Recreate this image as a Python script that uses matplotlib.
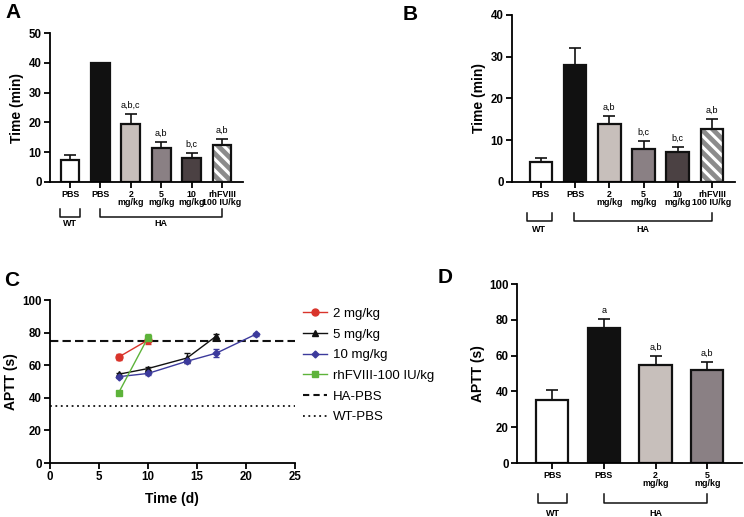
import matplotlib
matplotlib.use("Agg")
import matplotlib.pyplot as plt
from matplotlib.lines import Line2D
import numpy as np

plt.rcParams['font.family'] = ['Liberation Sans', 'DejaVu Sans']
plt.rcParams['hatch.linewidth'] = 2.2

# ---------------- data ----------------
a_labels = ["PBS", "PBS", "2\nmg/kg", "5\nmg/kg", "10\nmg/kg", "rhFVIII\n100 IU/kg"]
a_values = [7.5, 40, 19.5, 11.5, 8.0, 12.5]
a_err = [1.5, 0, 3.2, 1.9, 1.9, 2.1]
a_sig = ["", "", "a,b,c", "a,b", "b,c", "a,b"]

b_labels = ["PBS", "PBS", "2\nmg/kg", "5\nmg/kg", "10\nmg/kg", "rhFVIII\n100 IU/kg"]
b_values = [4.7, 28, 13.8, 8.0, 7.3, 12.8]
b_err = [1.1, 4.0, 2.0, 1.8, 1.0, 2.4]
b_sig = ["", "", "a,b", "b,c", "b,c", "a,b"]

d_labels = ["PBS", "PBS", "2\nmg/kg", "5\nmg/kg"]
d_values = [35.5, 75.5, 55, 52]
d_err = [5.5, 5.0, 5.0, 4.5]
d_sig = ["", "a", "a,b", "a,b"]

c_days_2 = [7, 10]
c_aptt_2 = [65, 75.5]
c_err_2 = [2.0, 2.5]
c_days_5 = [7, 10, 14, 17]
c_aptt_5 = [54.5, 58, 64.5, 78]
c_err_5 = [1.0, 1.0, 3.0, 1.0]
c_days_10 = [7, 10, 14, 17, 21]
c_aptt_10 = [53, 55, 62.5, 67.5, 79]
c_err_10 = [1.0, 1.0, 1.0, 2.5, 0.8]
c_days_rh = [7, 10]
c_aptt_rh = [43, 77]
c_err_rh = [1.0, 2.0]
ha_pbs = 75
wt_pbs = 35

colors6 = ["white", "#111111", "#c7bfbb", "#8a8084", "#4b4143", "hatch"]

fig = plt.figure(figsize=(7.44, 5.17), dpi=100)

def style_axis(ax):
    for s in ["top", "right"]:
        ax.spines[s].set_visible(False)
    for s in ["left", "bottom"]:
        ax.spines[s].set_linewidth(1.3)
    ax.tick_params(width=1.3, length=4, direction='out', pad=2)
    for lab in ax.get_yticklabels():
        lab.set_fontweight('bold')

def bar_panel(ax, labels, values, err, sig, colors, width, ylim, yticks, ylabel,
              wt_span, ha_span, ys, tickfs=6.4):
    x = np.arange(len(values))
    for i, (v, c) in enumerate(zip(values, colors)):
        if c == "hatch":
            ax.bar(x[i], v, width, color="#8c8c8c", edgecolor="white", hatch="\\\\\\",
                   linewidth=0, zorder=2)
            ax.bar(x[i], v, width, facecolor="none", edgecolor="#111111",
                   linewidth=1.6, zorder=3)
        else:
            ax.bar(x[i], v, width, color=c, edgecolor="#111111", linewidth=1.6, zorder=2)
    for i, (v, e) in enumerate(zip(values, err)):
        if e > 0:
            ax.errorbar(x[i], v, yerr=[[0], [e]], color="#111111", capsize=4,
                        elinewidth=1.2, capthick=1.2, zorder=1)
    for i, (v, e, s) in enumerate(zip(values, err, sig)):
        if s:
            ax.annotate(s, (x[i], v + e), xytext=(0, 3), textcoords='offset points',
                        ha='center', va='bottom', fontsize=6.5)
    ax.set_ylim(*ylim)
    ax.set_yticks(yticks)
    ax.set_xticks(x)
    ax.set_xticklabels(labels, fontsize=tickfs, fontweight='bold', linespacing=0.85)
    ax.set_ylabel(ylabel, fontsize=10, fontweight='bold', labelpad=3)
    style_axis(ax)
    ax.tick_params(axis='y', labelsize=8.3)
    tr = ax.get_xaxis_transform()
    ytop, ybot, ylab = ys
    for (x0, x1), name in [(wt_span, "WT"), (ha_span, "HA")]:
        ax.plot([x0, x0, x1, x1], [ytop, ybot, ybot, ytop], color="#111111", lw=1.1,
                transform=tr, clip_on=False)
        ax.text((x0 + x1) / 2, ylab, name, transform=tr, ha='center', va='center',
                fontsize=6.5, fontweight='bold')

# Panel A
axA = fig.add_axes([0.0672, 0.648, 0.2594, 0.288])
bar_panel(axA, a_labels, a_values, a_err, a_sig, colors6, 0.62, (0, 50),
          [0, 10, 20, 30, 40, 50], "Time (min)", (-0.33, 0.33), (1, 5),
          (-0.181, -0.235, -0.282))
axA.set_xlim(-0.66, 5.69)

# Panel B
axB = fig.add_axes([0.688, 0.648, 0.2997, 0.323])
bar_panel(axB, b_labels, b_values, b_err, b_sig, colors6, 0.66, (0, 40),
          [0, 10, 20, 30, 40], "Time (min)", (-0.41, 0.32), (0.97, 5),
          (-0.186, -0.234, -0.287))
axB.set_xlim(-0.85, 5.67)

# Panel D
axD = fig.add_axes([0.695, 0.1044, 0.302, 0.346])
bar_panel(axD, d_labels, d_values, d_err, d_sig, colors6[:4], 0.62, (0, 100),
          [0, 20, 40, 60, 80, 100], "APTT (s)", (-0.27, 0.29), (1, 3),
          (-0.173, -0.223, -0.28))
axD.set_xlim(-0.68, 3.67)

# Panel C
axC = fig.add_axes([0.0672, 0.1044, 0.329, 0.315])
axC.axhline(ha_pbs, color="#111111", ls=(0, (4, 2)), lw=1.5, zorder=1)
axC.axhline(wt_pbs, color="#111111", ls=(0, (1, 2)), lw=1.3, zorder=1)
series = [
    (c_days_2, c_aptt_2, c_err_2, "#d9342b", "o", 5, "2 mg/kg"),
    (c_days_5, c_aptt_5, c_err_5, "#111111", "^", 5, "5 mg/kg"),
    (c_days_10, c_aptt_10, c_err_10, "#3c3a9c", "D", 3.5, "10 mg/kg"),
    (c_days_rh, c_aptt_rh, c_err_rh, "#5db33a", "s", 5, "rhFVIII-100 IU/kg"),
]
handles, labels = [], []
for xs, ys_, es, col, mk, ms, lab in series:
    axC.errorbar(xs, ys_, yerr=es, color=col, marker=mk, ms=ms, lw=1.0,
                 capsize=2, elinewidth=1.0, zorder=3)
    handles.append(Line2D([], [], color=col, marker=mk, ms=ms, lw=1.0))
    labels.append(lab)
handles.append(Line2D([], [], color="#111111", ls=(0, (3, 2)), lw=1.5))
labels.append("HA-PBS")
handles.append(Line2D([], [], color="#111111", ls=(0, (1, 2)), lw=1.3))
labels.append("WT-PBS")
axC.set_xlim(0, 25)
axC.set_ylim(0, 100)
axC.set_xticks([0, 5, 10, 15, 20, 25])
axC.set_yticks([0, 20, 40, 60, 80, 100])
axC.set_xlabel("Time (d)", fontsize=10, fontweight='bold', labelpad=6)
axC.set_ylabel("APTT (s)", fontsize=10, fontweight='bold', labelpad=3)
style_axis(axC)
axC.tick_params(labelsize=8.3)
for lab in axC.get_xticklabels():
    lab.set_fontweight('bold')
axC.legend(handles, labels, loc='upper left',
           bbox_to_anchor=(0.995, 1.01), frameon=False, fontsize=9.5,
           handlelength=1.8, handletextpad=0.5, labelspacing=0.64, borderaxespad=0.3)

# panel letters
for txt, xx, yy in [("A", 0.008, 0.975), ("B", 0.541, 0.972), ("C", 0.006, 0.458), ("D", 0.588, 0.463)]:
    fig.text(xx, yy, txt, fontsize=15, fontweight='bold', ha='left', va='center')

fig.savefig("out.png", dpi=100)
